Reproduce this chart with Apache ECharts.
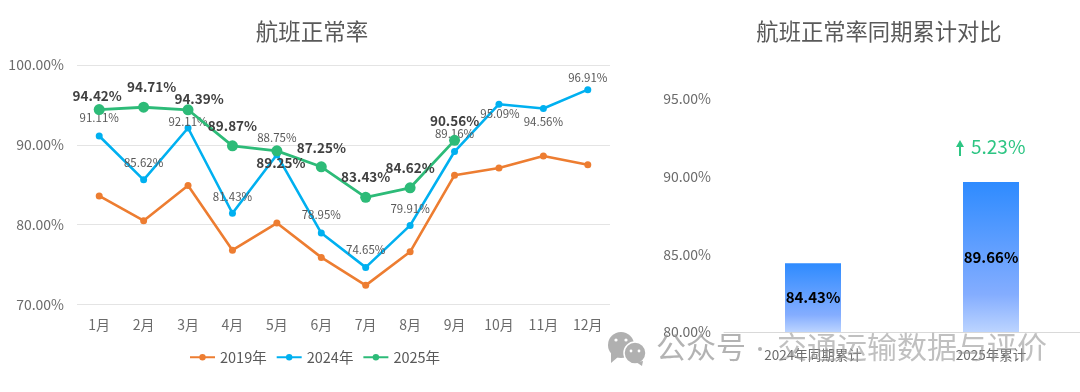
<!DOCTYPE html>
<html><head><meta charset="utf-8">
<style>html,body{margin:0;padding:0;background:#fff}#c{width:1080px;height:392px}</style>
<script src="https://cdn.jsdelivr.net/npm/echarts@6/dist/echarts.min.js"></script>
</head><body><div id="c"></div>
<script>
const months = ['1月','2月','3月','4月','5月','6月','7月','8月','9月','10月','11月','12月'];
const rate2019 = [83.6,80.5,84.9,76.8,80.2,75.9,72.4,76.6,86.2,87.1,88.6,87.5];
const rate2024 = [91.11,85.62,92.11,81.43,88.75,78.95,74.65,79.91,89.16,95.09,94.56,96.91];
const rate2025 = [94.42,94.71,94.39,89.87,89.25,87.25,83.43,84.62,90.56];
const offsets2024 = [[0,-18],[0,-17],[0,-6],[0,-17],[0,-17],[0,-18],[0,-18],[0,-17],[0,-18],[1,9],[0,13],[0,-12]];
const offsets2025 = [[-2,-14],[8,-20],[11,-11],[0,-20],[4,12],[0,-19],[0,-20],[0,-20],[0,-19]];
const cumCats = ['2024年同期累计','2025年累计'];
const cumVals = [84.43,89.66];
const changeText = '5.23%';
const FONT = '"Noto Sans CJK SC","Noto Sans",sans-serif';
const pct = v => v.toFixed(2) + '%';
const lbl = (arr, offs, style) => arr.map((v,i)=>({value:v,label:Object.assign({show:true,position:'inside',offset:offs[i],formatter:p=>pct(p.value)},style)}));
const axisTxt = {color:'#6b6b6b',fontFamily:FONT};
const wm = 'rgba(150,150,150,.72)';
const chart = echarts.init(document.getElementById('c'));
chart.setOption({
  animation:false,
  textStyle:{fontFamily:FONT},
  title:[
    {text:'航班正常率',left:307,top:15,textAlign:'center',textStyle:{fontSize:22.5,fontWeight:'normal',color:'#595959',fontFamily:FONT}},
    {text:'航班正常率同期累计对比',left:874,top:15,textAlign:'center',textStyle:{fontSize:22.3,fontWeight:'normal',color:'#595959',fontFamily:FONT}}
  ],
  legend:{data:['2019年','2024年','2025年'],left:184,top:345,itemWidth:25,itemHeight:8,itemGap:9,
    textStyle:{fontSize:14.5,color:'#595959',fontFamily:FONT}},
  grid:[
    {left:77,right:470,top:65,height:239.5},
    {left:724,right:0,top:99,height:233}
  ],
  xAxis:[
    {type:'category',gridIndex:0,data:months,axisLine:{show:false},axisTick:{show:false},axisLabel:{...axisTxt,fontSize:14,margin:13}},
    {type:'category',gridIndex:1,data:cumCats,axisLine:{lineStyle:{color:'#d9d9d9',width:1}},axisTick:{show:false},axisLabel:{...axisTxt,fontSize:13.5,margin:16}}
  ],
  yAxis:[
    {type:'value',gridIndex:0,min:70,max:100,interval:10,axisLine:{show:false},axisTick:{show:false},
      splitLine:{lineStyle:{color:'#e4e4e4',width:1.2}},axisLabel:{...axisTxt,fontSize:14,margin:13,formatter:pct}},
    {type:'value',gridIndex:1,min:80,max:95,interval:5,axisLine:{show:false},axisTick:{show:false},
      splitLine:{show:false},axisLabel:{...axisTxt,fontSize:14,margin:13,formatter:pct}}
  ],
  series:[
    {name:'2019年',type:'line',xAxisIndex:0,yAxisIndex:0,data:rate2019,symbol:'circle',symbolSize:7,
      lineStyle:{color:'#ed7d31',width:2.6},itemStyle:{color:'#ed7d31'},z:2},
    {name:'2024年',type:'line',xAxisIndex:0,yAxisIndex:0,data:lbl(rate2024,offsets2024,{fontSize:11.5,color:'#595959',fontFamily:FONT}),symbol:'circle',symbolSize:7,
      lineStyle:{color:'#00b0f0',width:2.6},itemStyle:{color:'#00b0f0'},z:3},
    {name:'2025年',type:'line',xAxisIndex:0,yAxisIndex:0,data:lbl(rate2025,offsets2025,{fontSize:13.5,fontWeight:'bold',color:'#404040',fontFamily:FONT}),symbol:'circle',symbolSize:11,
      lineStyle:{color:'#2dbb78',width:2.8},itemStyle:{color:'#2dbb78'},z:4},
    {name:'累计',type:'bar',xAxisIndex:1,yAxisIndex:1,data:cumVals,barWidth:56,
      itemStyle:{color:new echarts.graphic.LinearGradient(0,0,0,1,[
        {offset:0,color:'#2e8bff'},{offset:.75,color:'#84adff'},{offset:1,color:'#bcd4ff'}])},
      label:{show:true,position:'inside',formatter:p=>pct(p.value),fontSize:15,fontWeight:'bold',color:'#000',fontFamily:FONT}}
  ],
  graphic:[
    {type:'polygon',shape:{points:[[960,140],[964,147],[961,147],[961,156],[959,156],[959,147],[956,147]]},style:{fill:'#2dc583'}},
    {type:'text',x:971,y:137,style:{text:changeText,fontSize:19,fill:'#2dc583',fontFamily:FONT}},
    {type:'group',silent:true,z:100,children:[
      {type:'circle',shape:{cx:621,cy:345,r:13},style:{fill:'#b0b0b0'},z:100},
      {type:'polygon',shape:{points:[[611,352],[618,357],[611,363]]},style:{fill:'#b0b0b0'},z:100},
      {type:'circle',shape:{cx:635,cy:353,r:11},style:{fill:'#b0b0b0',stroke:'#fff',lineWidth:1.5},z:101},
      {type:'polygon',shape:{points:[[636,362],[643,361],[642,366]]},style:{fill:'#b0b0b0'},z:101},
      {type:'circle',shape:{cx:616,cy:340,r:1.6},style:{fill:'#fff'},z:102},
      {type:'circle',shape:{cx:626,cy:340,r:1.6},style:{fill:'#fff'},z:102},
      {type:'circle',shape:{cx:631,cy:351,r:1.4},style:{fill:'#fff'},z:102},
      {type:'circle',shape:{cx:639,cy:351,r:1.4},style:{fill:'#fff'},z:102},
      {type:'text',x:656,y:332,style:{text:'公众号',fontSize:30,fill:wm,fontFamily:FONT},z:102},
      {type:'circle',shape:{cx:760,cy:349,r:2},style:{fill:wm},z:102},
      {type:'text',x:777,y:332,style:{text:'交通运输数据与评价',fontSize:30,fill:'rgba(150,150,150,.6)',fontFamily:FONT},z:102}
    ]}
  ]
});
</script></body></html>
